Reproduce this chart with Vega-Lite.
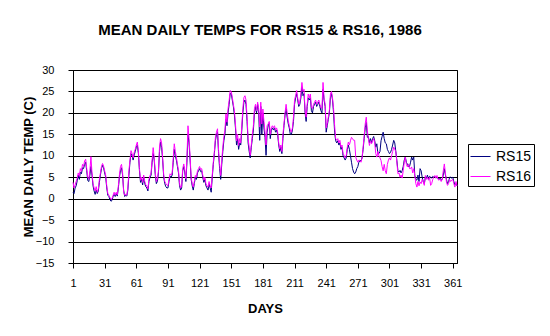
{
"$schema": "https://vega.github.io/schema/vega-lite/v6.json",
"width": 384,
"height": 193,
"autosize": {"type": "none"},
"padding": {"left": 73, "top": 70, "right": 93, "bottom": 73},
"background": "white",
"title": {"text": "MEAN DAILY TEMPS FOR RS15 & RS16, 1986", "font": "Liberation Sans", "fontSize": 15, "fontWeight": "bold", "color": "black", "anchor": "middle", "frame": "group", "dx": -5, "baseline": "alphabetic", "offset": 14},
"config": {
  "view": {"stroke": "black", "strokeWidth": 1},
  "font": "Liberation Sans",
  "axis": {"domainColor": "black", "tickColor": "black", "labelColor": "black", "titleColor": "black", "labelFont": "Liberation Sans", "titleFont": "Liberation Sans", "labelFontSize": 11, "titleFontSize": 13, "titleFontWeight": "bold", "tickSize": 5, "domainWidth": 1, "tickWidth": 1}
},
"data": {"values": [
{"d":1,"RS15":1.5,"RS16":3.8},{"d":2,"RS15":1.2,"RS16":2.5},{"d":3,"RS15":2.5,"RS16":3.2},{"d":4,"RS15":3.0,"RS16":4.0},{"d":5,"RS15":4.2,"RS16":4.8},{"d":6,"RS15":5.5,"RS16":6.0},{"d":7,"RS15":4.5,"RS16":5.2},{"d":8,"RS15":6.2,"RS16":7.0},{"d":9,"RS15":5.8,"RS16":6.4},{"d":10,"RS15":7.2,"RS16":8.0},
{"d":11,"RS15":7.0,"RS16":7.5},{"d":12,"RS15":8.0,"RS16":8.8},{"d":13,"RS15":8.5,"RS16":9.2},{"d":14,"RS15":6.5,"RS16":7.0},{"d":15,"RS15":4.2,"RS16":5.0},{"d":16,"RS15":4.0,"RS16":4.5},{"d":17,"RS15":5.5,"RS16":6.5},{"d":18,"RS15":7.5,"RS16":9.8},{"d":19,"RS15":5.5,"RS16":6.0},{"d":20,"RS15":3.0,"RS16":3.5},
{"d":21,"RS15":1.8,"RS16":2.5},{"d":22,"RS15":1.0,"RS16":1.8},{"d":23,"RS15":2.0,"RS16":2.8},{"d":24,"RS15":1.2,"RS16":1.5},{"d":25,"RS15":1.8,"RS16":2.2},{"d":26,"RS15":3.8,"RS16":4.5},{"d":27,"RS15":5.5,"RS16":6.0},{"d":28,"RS15":7.0,"RS16":7.5},{"d":29,"RS15":7.8,"RS16":8.2},{"d":30,"RS15":7.2,"RS16":7.6},
{"d":31,"RS15":6.0,"RS16":6.5},{"d":32,"RS15":5.0,"RS16":5.5},{"d":33,"RS15":2.5,"RS16":3.0},{"d":34,"RS15":0.8,"RS16":1.2},{"d":35,"RS15":0.5,"RS16":0.8},{"d":36,"RS15":-0.2,"RS16":0.3},{"d":37,"RS15":-0.6,"RS16":-0.2},{"d":38,"RS15":-0.4,"RS16":0.0},{"d":39,"RS15":0.5,"RS16":0.8},{"d":40,"RS15":1.0,"RS16":1.5},
{"d":41,"RS15":0.5,"RS16":0.8},{"d":42,"RS15":1.2,"RS16":1.5},{"d":43,"RS15":0.6,"RS16":0.9},{"d":44,"RS15":2.5,"RS16":3.0},{"d":45,"RS15":5.0,"RS16":5.5},{"d":46,"RS15":6.5,"RS16":7.5},{"d":47,"RS15":7.2,"RS16":8.0},{"d":48,"RS15":5.5,"RS16":6.0},{"d":49,"RS15":2.0,"RS16":1.5},{"d":50,"RS15":0.5,"RS16":0.8},
{"d":51,"RS15":0.8,"RS16":1.0},{"d":52,"RS15":0.6,"RS16":0.8},{"d":53,"RS15":2.0,"RS16":2.5},{"d":54,"RS15":5.5,"RS16":6.5},{"d":55,"RS15":8.5,"RS16":9.0},{"d":56,"RS15":10.5,"RS16":11.2},{"d":57,"RS15":10.0,"RS16":10.5},{"d":58,"RS15":9.0,"RS16":9.5},{"d":59,"RS15":10.2,"RS16":10.8},{"d":60,"RS15":11.0,"RS16":11.5},
{"d":61,"RS15":12.0,"RS16":12.5},{"d":62,"RS15":12.5,"RS16":13.2},{"d":63,"RS15":10.5,"RS16":11.0},{"d":64,"RS15":6.5,"RS16":7.0},{"d":65,"RS15":3.8,"RS16":4.3},{"d":66,"RS15":4.5,"RS16":5.0},{"d":67,"RS15":3.2,"RS16":3.8},{"d":68,"RS15":5.0,"RS16":5.5},{"d":69,"RS15":3.5,"RS16":4.0},{"d":70,"RS15":2.8,"RS16":3.2},
{"d":71,"RS15":2.5,"RS16":3.0},{"d":72,"RS15":1.8,"RS16":2.3},{"d":73,"RS15":4.0,"RS16":4.5},{"d":74,"RS15":5.0,"RS16":5.4},{"d":75,"RS15":5.5,"RS16":6.0},{"d":76,"RS15":8.5,"RS16":9.0},{"d":77,"RS15":10.5,"RS16":11.9},{"d":78,"RS15":9.0,"RS16":9.5},{"d":79,"RS15":5.5,"RS16":6.0},{"d":80,"RS15":3.5,"RS16":4.0},
{"d":81,"RS15":4.0,"RS16":4.5},{"d":82,"RS15":6.0,"RS16":6.5},{"d":83,"RS15":11.0,"RS16":12.0},{"d":84,"RS15":13.2,"RS16":14.0},{"d":85,"RS15":12.0,"RS16":13.0},{"d":86,"RS15":9.0,"RS16":9.5},{"d":87,"RS15":5.0,"RS16":5.5},{"d":88,"RS15":3.5,"RS16":4.0},{"d":89,"RS15":2.8,"RS16":3.5},{"d":90,"RS15":2.5,"RS16":3.2},
{"d":91,"RS15":2.5,"RS16":3.0},{"d":92,"RS15":4.0,"RS16":4.5},{"d":93,"RS15":5.2,"RS16":5.8},{"d":94,"RS15":5.0,"RS16":5.5},{"d":95,"RS15":5.5,"RS16":6.0},{"d":96,"RS15":8.5,"RS16":9.5},{"d":97,"RS15":11.5,"RS16":12.8},{"d":98,"RS15":10.0,"RS16":11.0},{"d":99,"RS15":9.0,"RS16":9.7},{"d":100,"RS15":7.5,"RS16":8.0},
{"d":101,"RS15":6.0,"RS16":6.6},{"d":102,"RS15":3.0,"RS16":3.5},{"d":103,"RS15":2.0,"RS16":2.5},{"d":104,"RS15":2.5,"RS16":3.0},{"d":105,"RS15":6.5,"RS16":7.0},{"d":106,"RS15":7.5,"RS16":8.1},{"d":107,"RS15":6.0,"RS16":6.5},{"d":108,"RS15":4.0,"RS16":4.6},{"d":109,"RS15":8.5,"RS16":9.5},{"d":110,"RS15":15.0,"RS16":17.0},
{"d":111,"RS15":13.0,"RS16":14.0},{"d":112,"RS15":9.0,"RS16":9.7},{"d":113,"RS15":4.5,"RS16":5.0},{"d":114,"RS15":3.0,"RS16":3.5},{"d":115,"RS15":2.0,"RS16":2.7},{"d":116,"RS15":3.5,"RS16":4.0},{"d":117,"RS15":5.0,"RS16":5.4},{"d":118,"RS15":4.5,"RS16":5.0},{"d":119,"RS15":6.0,"RS16":6.5},{"d":120,"RS15":6.5,"RS16":7.0},
{"d":121,"RS15":7.0,"RS16":7.5},{"d":122,"RS15":6.3,"RS16":6.8},{"d":123,"RS15":6.5,"RS16":7.0},{"d":124,"RS15":5.0,"RS16":5.5},{"d":125,"RS15":3.8,"RS16":4.3},{"d":126,"RS15":4.5,"RS16":5.0},{"d":127,"RS15":3.0,"RS16":3.5},{"d":128,"RS15":2.5,"RS16":3.0},{"d":129,"RS15":2.0,"RS16":2.7},{"d":130,"RS15":3.5,"RS16":4.0},
{"d":131,"RS15":2.5,"RS16":3.0},{"d":132,"RS15":1.5,"RS16":2.5},{"d":133,"RS15":5.0,"RS16":5.5},{"d":134,"RS15":8.0,"RS16":8.5},{"d":135,"RS15":10.5,"RS16":11.0},{"d":136,"RS15":13.5,"RS16":14.3},{"d":137,"RS15":15.0,"RS16":15.5},{"d":138,"RS15":15.5,"RS16":16.3},{"d":139,"RS15":10.5,"RS16":11.2},{"d":140,"RS15":7.0,"RS16":8.0},
{"d":141,"RS15":4.5,"RS16":5.4},{"d":142,"RS15":8.0,"RS16":8.9},{"d":143,"RS15":11.0,"RS16":12.0},{"d":144,"RS15":13.5,"RS16":14.5},{"d":145,"RS15":15.0,"RS16":15.9},{"d":146,"RS15":18.5,"RS16":19.8},{"d":147,"RS15":17.0,"RS16":17.8},{"d":148,"RS15":20.0,"RS16":21.0},{"d":149,"RS15":22.0,"RS16":22.9},{"d":150,"RS15":24.5,"RS16":25.2},
{"d":151,"RS15":24.5,"RS16":25.0},{"d":152,"RS15":23.0,"RS16":23.6},{"d":153,"RS15":21.5,"RS16":22.0},{"d":154,"RS15":19.5,"RS16":20.5},{"d":155,"RS15":16.5,"RS16":17.4},{"d":156,"RS15":12.5,"RS16":13.5},{"d":157,"RS15":14.0,"RS16":15.0},{"d":158,"RS15":11.5,"RS16":12.4},{"d":159,"RS15":13.0,"RS16":14.0},{"d":160,"RS15":12.5,"RS16":13.0},
{"d":161,"RS15":16.0,"RS16":17.0},{"d":162,"RS15":20.0,"RS16":21.0},{"d":163,"RS15":22.5,"RS16":23.6},{"d":164,"RS15":23.0,"RS16":24.0},{"d":165,"RS15":22.0,"RS16":23.0},{"d":166,"RS15":18.0,"RS16":19.0},{"d":167,"RS15":13.0,"RS16":14.0},{"d":168,"RS15":11.0,"RS16":12.0},{"d":169,"RS15":9.5,"RS16":10.1},{"d":170,"RS15":12.0,"RS16":12.5},
{"d":171,"RS15":14.0,"RS16":15.0},{"d":172,"RS15":16.0,"RS16":17.0},{"d":173,"RS15":20.0,"RS16":21.0},{"d":174,"RS15":21.5,"RS16":22.0},{"d":175,"RS15":20.0,"RS16":20.5},{"d":176,"RS15":22.0,"RS16":22.5},{"d":177,"RS15":20.0,"RS16":21.0},{"d":178,"RS15":13.6,"RS16":16.7},{"d":179,"RS15":21.5,"RS16":22.5},{"d":180,"RS15":15.0,"RS16":17.4},
{"d":181,"RS15":20.0,"RS16":20.9},{"d":182,"RS15":16.5,"RS16":18.0},{"d":183,"RS15":14.3,"RS16":15.5},{"d":184,"RS15":10.1,"RS16":12.5},{"d":185,"RS15":15.5,"RS16":17.0},{"d":186,"RS15":17.0,"RS16":17.4},{"d":187,"RS15":17.5,"RS16":18.0},{"d":188,"RS15":14.0,"RS16":15.0},{"d":189,"RS15":16.0,"RS16":16.5},{"d":190,"RS15":16.5,"RS16":17.0},
{"d":191,"RS15":16.0,"RS16":16.5},{"d":192,"RS15":16.5,"RS16":17.0},{"d":193,"RS15":15.5,"RS16":16.0},{"d":194,"RS15":16.0,"RS16":16.5},{"d":195,"RS15":15.0,"RS16":15.5},{"d":196,"RS15":12.5,"RS16":13.0},{"d":197,"RS15":11.0,"RS16":11.6},{"d":198,"RS15":12.0,"RS16":12.5},{"d":199,"RS15":10.5,"RS16":11.0},{"d":200,"RS15":14.0,"RS16":15.0},
{"d":201,"RS15":17.0,"RS16":17.5},{"d":202,"RS15":19.5,"RS16":20.0},{"d":203,"RS15":21.0,"RS16":22.0},{"d":204,"RS15":19.0,"RS16":20.0},{"d":205,"RS15":17.5,"RS16":18.2},{"d":206,"RS15":16.5,"RS16":17.0},{"d":207,"RS15":15.0,"RS16":16.0},{"d":208,"RS15":15.0,"RS16":15.5},{"d":209,"RS15":16.0,"RS16":16.5},{"d":210,"RS15":18.0,"RS16":19.0},
{"d":211,"RS15":22.0,"RS16":22.9},{"d":212,"RS15":23.5,"RS16":24.0},{"d":213,"RS15":24.5,"RS16":25.2},{"d":214,"RS15":23.0,"RS16":23.5},{"d":215,"RS15":21.5,"RS16":22.0},{"d":216,"RS15":22.0,"RS16":22.5},{"d":217,"RS15":23.5,"RS16":24.5},{"d":218,"RS15":26.0,"RS16":27.1},{"d":219,"RS15":24.0,"RS16":25.0},{"d":220,"RS15":24.5,"RS16":25.5},
{"d":221,"RS15":20.0,"RS16":20.5},{"d":222,"RS15":18.0,"RS16":19.0},{"d":223,"RS15":21.5,"RS16":22.0},{"d":224,"RS15":23.5,"RS16":24.4},{"d":225,"RS15":23.0,"RS16":23.5},{"d":226,"RS15":23.5,"RS16":24.4},{"d":227,"RS15":20.5,"RS16":21.3},{"d":228,"RS15":20.0,"RS16":21.0},{"d":229,"RS15":21.5,"RS16":22.0},{"d":230,"RS15":22.0,"RS16":22.5},
{"d":231,"RS15":22.5,"RS16":23.0},{"d":232,"RS15":21.5,"RS16":22.0},{"d":233,"RS15":22.0,"RS16":22.5},{"d":234,"RS15":22.5,"RS16":23.0},{"d":235,"RS15":21.5,"RS16":22.0},{"d":236,"RS15":20.5,"RS16":21.3},{"d":237,"RS15":20.0,"RS16":21.0},{"d":238,"RS15":25.5,"RS16":27.1},{"d":239,"RS15":23.0,"RS16":23.6},{"d":240,"RS15":21.5,"RS16":22.0},
{"d":241,"RS15":15.5,"RS16":16.5},{"d":242,"RS15":17.0,"RS16":17.5},{"d":243,"RS15":18.5,"RS16":19.0},{"d":244,"RS15":20.0,"RS16":20.5},{"d":245,"RS15":23.5,"RS16":24.4},{"d":246,"RS15":24.5,"RS16":25.0},{"d":247,"RS15":23.0,"RS16":23.5},{"d":248,"RS15":20.0,"RS16":21.0},{"d":249,"RS15":15.5,"RS16":17.0},{"d":250,"RS15":13.5,"RS16":14.0},
{"d":251,"RS15":13.0,"RS16":13.6},{"d":252,"RS15":13.5,"RS16":14.0},{"d":253,"RS15":12.5,"RS16":13.0},{"d":254,"RS15":13.0,"RS16":13.6},{"d":255,"RS15":11.5,"RS16":12.0},{"d":256,"RS15":12.0,"RS16":12.5},{"d":257,"RS15":10.0,"RS16":10.5},{"d":258,"RS15":9.5,"RS16":10.1},{"d":259,"RS15":9.0,"RS16":9.5},{"d":260,"RS15":9.5,"RS16":10.0},
{"d":261,"RS15":11.5,"RS16":12.0},{"d":262,"RS15":12.5,"RS16":13.2},{"d":263,"RS15":11.5,"RS16":12.5},{"d":264,"RS15":10.0,"RS16":13.5},{"d":265,"RS15":8.5,"RS16":14.3},{"d":266,"RS15":7.0,"RS16":14.0},{"d":267,"RS15":6.2,"RS16":13.6},{"d":268,"RS15":5.8,"RS16":13.6},{"d":269,"RS15":6.2,"RS16":9.7},{"d":270,"RS15":7.0,"RS16":9.0},
{"d":271,"RS15":7.5,"RS16":8.5},{"d":272,"RS15":8.5,"RS16":9.0},{"d":273,"RS15":8.9,"RS16":8.9},{"d":274,"RS15":8.8,"RS16":8.5},{"d":275,"RS15":9.5,"RS16":9.5},{"d":276,"RS15":11.5,"RS16":12.0},{"d":277,"RS15":14.0,"RS16":14.7},{"d":278,"RS15":16.5,"RS16":17.5},{"d":279,"RS15":17.8,"RS16":19.0},{"d":280,"RS15":14.3,"RS16":15.9},
{"d":281,"RS15":14.5,"RS16":14.0},{"d":282,"RS15":13.0,"RS16":12.4},{"d":283,"RS15":14.0,"RS16":13.5},{"d":284,"RS15":13.0,"RS16":12.8},{"d":285,"RS15":14.0,"RS16":13.5},{"d":286,"RS15":14.5,"RS16":14.0},{"d":287,"RS15":13.5,"RS16":13.0},{"d":288,"RS15":12.0,"RS16":10.5},{"d":289,"RS15":12.8,"RS16":9.7},{"d":290,"RS15":10.5,"RS16":11.0},
{"d":291,"RS15":10.5,"RS16":10.0},{"d":292,"RS15":11.0,"RS16":9.5},{"d":293,"RS15":13.5,"RS16":8.9},{"d":294,"RS15":14.5,"RS16":7.5},{"d":295,"RS15":15.5,"RS16":6.5},{"d":296,"RS15":14.0,"RS16":8.0},{"d":297,"RS15":13.0,"RS16":6.5},{"d":298,"RS15":12.8,"RS16":5.8},{"d":299,"RS15":11.5,"RS16":8.0},{"d":300,"RS15":11.0,"RS16":9.0},
{"d":301,"RS15":10.5,"RS16":9.5},{"d":302,"RS15":10.8,"RS16":9.0},{"d":303,"RS15":11.5,"RS16":10.0},{"d":304,"RS15":12.5,"RS16":11.0},{"d":305,"RS15":13.6,"RS16":12.0},{"d":306,"RS15":13.0,"RS16":11.5},{"d":307,"RS15":11.0,"RS16":11.0},{"d":308,"RS15":8.9,"RS16":8.5},{"d":309,"RS15":6.5,"RS16":5.8},{"d":310,"RS15":6.2,"RS16":6.0},
{"d":311,"RS15":6.6,"RS16":5.0},{"d":312,"RS15":6.0,"RS16":5.5},{"d":313,"RS15":6.5,"RS16":4.8},{"d":314,"RS15":7.5,"RS16":6.5},{"d":315,"RS15":9.0,"RS16":8.5},{"d":316,"RS15":9.7,"RS16":9.7},{"d":317,"RS15":8.5,"RS16":8.0},{"d":318,"RS15":8.0,"RS16":7.4},{"d":319,"RS15":7.5,"RS16":8.1},{"d":320,"RS15":7.5,"RS16":7.0},
{"d":321,"RS15":8.5,"RS16":7.0},{"d":322,"RS15":9.7,"RS16":7.4},{"d":323,"RS15":9.0,"RS16":6.0},{"d":324,"RS15":9.7,"RS16":7.0},{"d":325,"RS15":5.4,"RS16":5.4},{"d":326,"RS15":4.5,"RS16":3.5},{"d":327,"RS15":4.3,"RS16":2.7},{"d":328,"RS15":5.5,"RS16":4.0},{"d":329,"RS15":4.0,"RS16":3.0},{"d":330,"RS15":7.0,"RS16":3.9},
{"d":331,"RS15":6.5,"RS16":3.5},{"d":332,"RS15":5.0,"RS16":4.5},{"d":333,"RS15":4.0,"RS16":3.9},{"d":334,"RS15":3.5,"RS16":3.1},{"d":335,"RS15":5.0,"RS16":5.4},{"d":336,"RS15":4.8,"RS16":4.5},{"d":337,"RS15":5.5,"RS16":5.0},{"d":338,"RS15":4.5,"RS16":4.3},{"d":339,"RS15":5.2,"RS16":5.0},{"d":340,"RS15":5.0,"RS16":3.1},
{"d":341,"RS15":4.8,"RS16":3.5},{"d":342,"RS15":5.2,"RS16":4.5},{"d":343,"RS15":5.0,"RS16":5.0},{"d":344,"RS15":5.2,"RS16":5.4},{"d":345,"RS15":4.8,"RS16":4.8},{"d":346,"RS15":5.0,"RS16":5.4},{"d":347,"RS15":4.8,"RS16":4.5},{"d":348,"RS15":4.5,"RS16":4.3},{"d":349,"RS15":4.8,"RS16":4.6},{"d":350,"RS15":4.3,"RS16":4.0},
{"d":351,"RS15":4.5,"RS16":4.5},{"d":352,"RS15":5.5,"RS16":6.5},{"d":353,"RS15":7.0,"RS16":8.1},{"d":354,"RS15":5.5,"RS16":6.0},{"d":355,"RS15":4.5,"RS16":3.9},{"d":356,"RS15":3.5,"RS16":3.1},{"d":357,"RS15":3.9,"RS16":3.5},{"d":358,"RS15":5.0,"RS16":4.5},{"d":359,"RS15":5.0,"RS16":4.0},{"d":360,"RS15":4.8,"RS16":4.3},
{"d":361,"RS15":5.0,"RS16":4.5},{"d":362,"RS15":4.0,"RS16":3.5},{"d":363,"RS15":3.2,"RS16":2.7},{"d":364,"RS15":3.5,"RS16":4.0},{"d":365,"RS15":3.0,"RS16":3.0}
]},
"transform": [{"fold": ["RS15", "RS16"], "as": ["series", "temp"]}],
"mark": {"type": "line", "strokeWidth": 1},
"encoding": {
  "x": {"field": "d", "type": "quantitative", "scale": {"domain": [1, 365], "nice": false, "zero": false},
        "axis": {"values": [1,31,61,91,121,151,181,211,241,271,301,331,361], "title": "DAYS", "grid": false, "labelPadding": 9, "titlePadding": 14, "labelFlush": false}},
  "y": {"field": "temp", "type": "quantitative", "scale": {"domain": [-15, 30], "nice": false, "zero": false},
        "axis": {"values": [-15,-10,-5,0,5,10,15,20,25,30], "title": "MEAN DAILY TEMP (C)", "grid": true, "gridColor": "black", "gridOpacity": 1, "gridWidth": 1, "labelPadding": 14, "titlePadding": 0}},
  "color": {"field": "series", "type": "nominal", "scale": {"domain": ["RS15", "RS16"], "range": ["#000080", "#FF00FF"]},
            "legend": {"orient": "none", "legendX": 395, "legendY": 74, "title": null, "fillColor": "white", "strokeColor": "black", "padding": 2, "symbolType": "stroke", "symbolSize": 400, "symbolStrokeWidth": 1, "labelFontSize": 14, "labelColor": "black", "labelFont": "Liberation Sans", "rowPadding": 2, "labelOffset": 5, "cornerRadius": 0}}
}
}
